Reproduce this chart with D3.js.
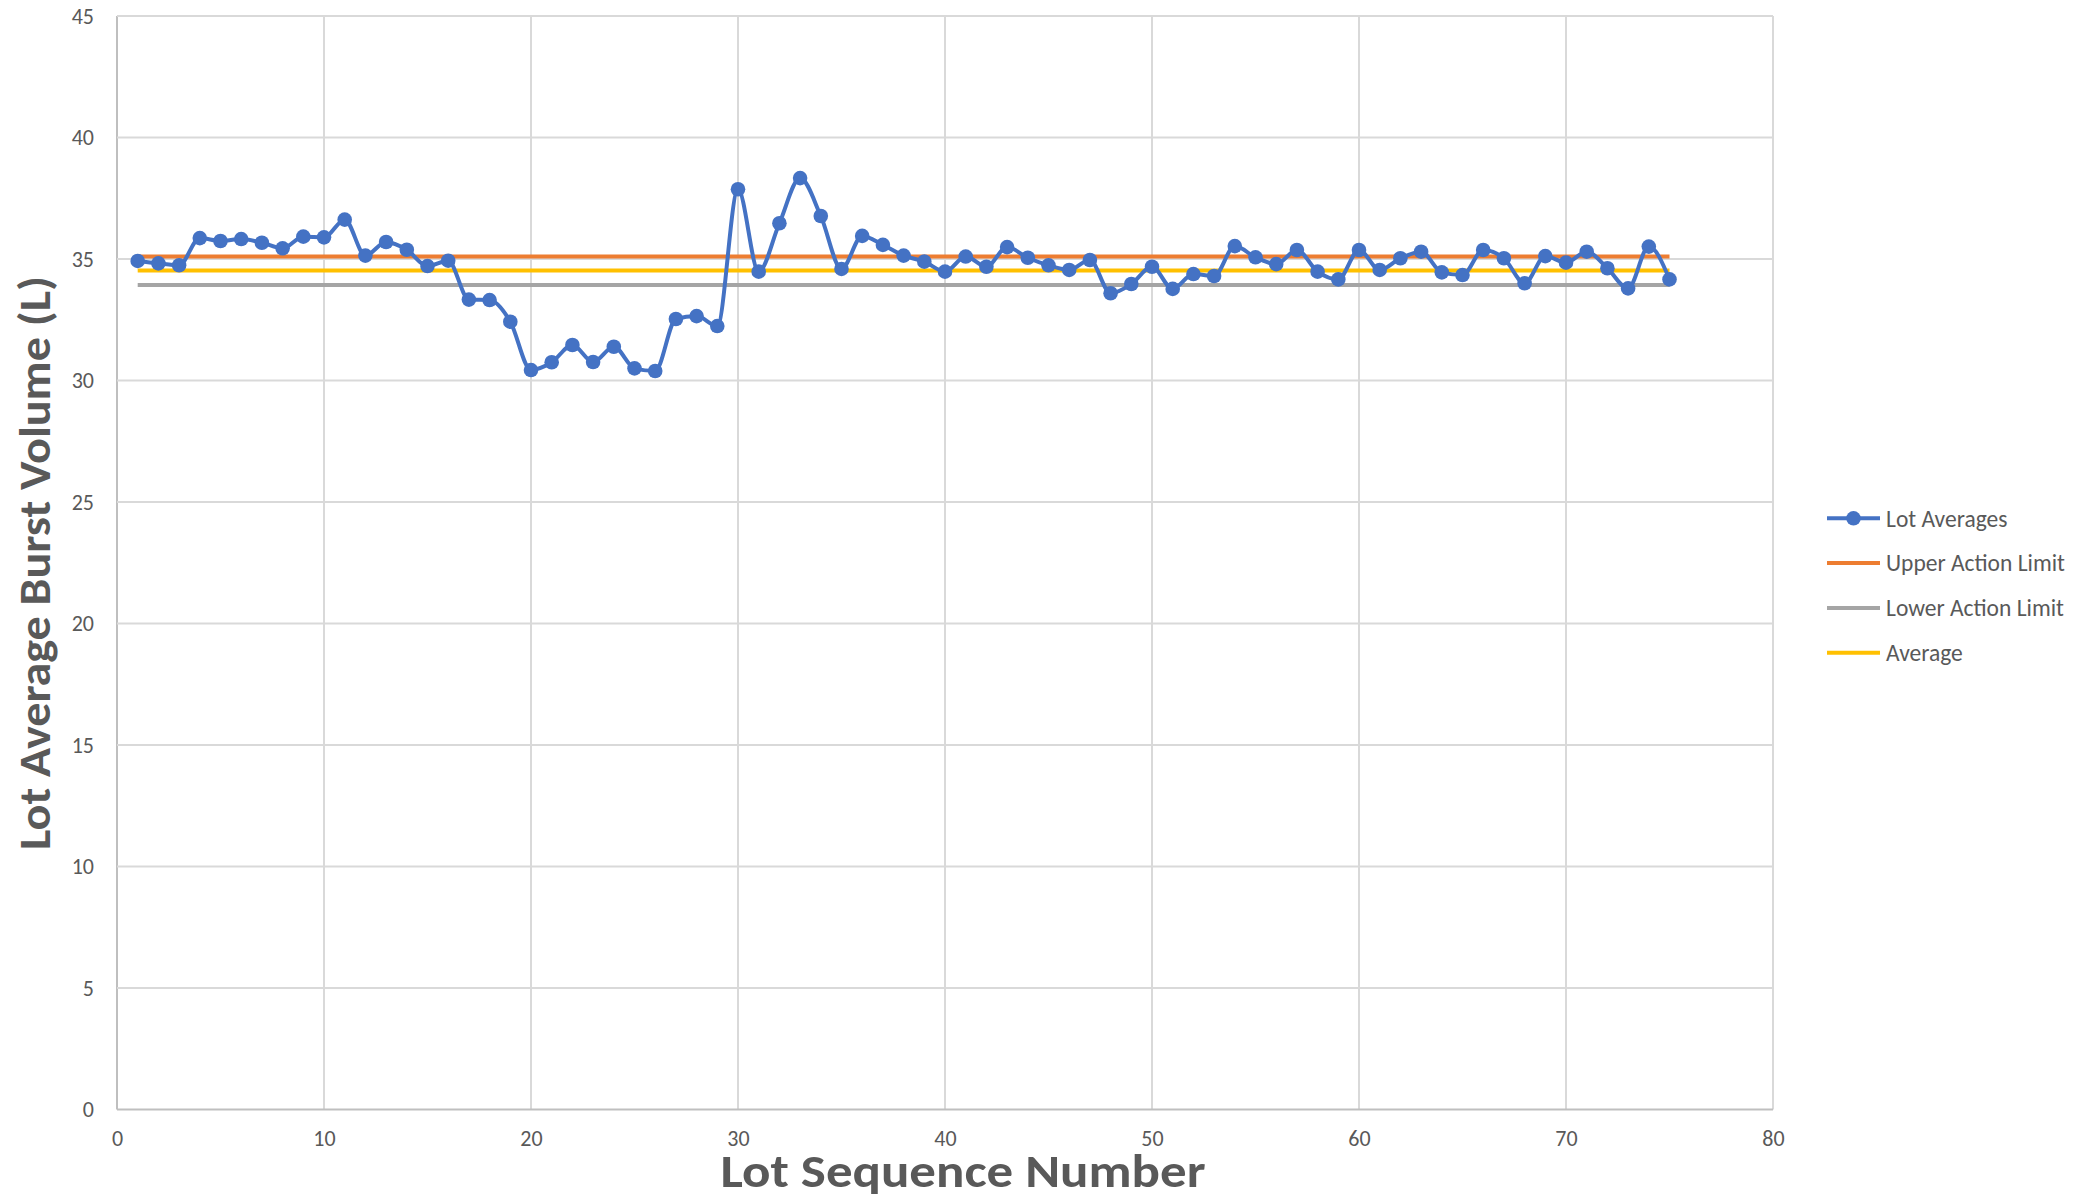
<!DOCTYPE html>
<html>
<head>
<meta charset="utf-8">
<script src="https://cdn.jsdelivr.net/npm/d3@7/dist/d3.min.js"></script>
<style>
  html, body { margin: 0; padding: 0; background: #ffffff; }
  svg { display: block; }
  text { font-family: Carlito, Calibri, Lato, "Open Sans", sans-serif; fill: #595959; }
</style>
</head>
<body>
<svg id="chart" width="2089" height="1199"></svg>
<script>
// Lot sequence numbers 1..75
const lots = [
  1, 2, 3, 4, 5, 6, 7, 8, 9, 10, 11, 12, 13, 14, 15, 16, 17, 18, 19, 20,
  21, 22, 23, 24, 25, 26, 27, 28, 29, 30, 31, 32, 33, 34, 35, 36, 37, 38, 39, 40,
  41, 42, 43, 44, 45, 46, 47, 48, 49, 50, 51, 52, 53, 54, 55, 56, 57, 58, 59, 60,
  61, 62, 63, 64, 65, 66, 67, 68, 69, 70, 71, 72, 73, 74, 75
];

// Average burst volume (L) of each lot
const lotAverages = [
  34.92, 34.82, 34.74, 35.86, 35.74, 35.82, 35.67, 35.44, 35.92, 35.89,
  36.62, 35.14, 35.70, 35.38, 34.71, 34.93, 33.33, 33.31, 32.42, 30.43,
  30.75, 31.46, 30.76, 31.39, 30.50, 30.39, 32.53, 32.65, 32.24, 37.87,
  34.48, 36.47, 38.33, 36.77, 34.59, 35.95, 35.58, 35.14, 34.89, 34.48,
  35.10, 34.68, 35.49, 35.05, 34.74, 34.55, 34.96, 33.59, 33.97, 34.68,
  33.77, 34.38, 34.30, 35.53, 35.07, 34.79, 35.37, 34.48, 34.16, 35.37,
  34.55, 35.03, 35.30, 34.45, 34.34, 35.37, 35.03, 34.00, 35.12, 34.85,
  35.30, 34.62, 33.79, 35.51, 34.16
];

// Control limits and overall average
const upperActionLimit = 35.10;
const lowerActionLimit = 33.93;
const overallAverage = 34.53;

// Axis ticks
const xTicks = [0, 10, 20, 30, 40, 50, 60, 70, 80];
const yTicks = [0, 5, 10, 15, 20, 25, 30, 35, 40, 45];

const legendLabels = ["Lot Averages", "Upper Action Limit", "Lower Action Limit", "Average"];
const seriesColors = ["#4472C4", "#ED7D31", "#A5A5A5", "#FFC000"];

const svg = d3.select("#chart");

const plot = { left: 117, right: 1773, top: 16, bottom: 1109.5 };

const x = d3.scaleLinear().domain([0, 80]).range([plot.left, plot.right]);
const y = d3.scaleLinear().domain([0, 45]).range([plot.bottom, plot.top]);

// Gridlines
const grid = svg.append("g");
grid.selectAll("line.vg").data(xTicks).enter().append("line")
  .attr("x1", d => x(d)).attr("x2", d => x(d))
  .attr("y1", plot.top).attr("y2", plot.bottom)
  .attr("stroke", d => d === 0 ? "#BFBFBF" : "#D9D9D9")
  .attr("stroke-width", 2);
grid.selectAll("line.hg").data(yTicks).enter().append("line")
  .attr("x1", plot.left).attr("x2", plot.right)
  .attr("y1", d => y(d)).attr("y2", d => y(d))
  .attr("stroke", d => d === 0 ? "#BFBFBF" : "#D9D9D9")
  .attr("stroke-width", 2);

// Axes (labels only; lines drawn by the grid)
const yAxis = d3.axisLeft(y).tickValues(yTicks).tickSize(0).tickPadding(23);
const gy = svg.append("g").attr("transform", `translate(${plot.left},0)`).call(yAxis);
gy.select(".domain").remove();
gy.selectAll("text").attr("font-size", 22).attr("fill", "#595959")
  .style("font-family", "Carlito, Calibri, Lato, sans-serif");

const xAxis = d3.axisBottom(x).tickValues(xTicks).tickSize(0).tickPadding(21);
const gx = svg.append("g").attr("transform", `translate(0,${plot.bottom})`).call(xAxis);
gx.select(".domain").remove();
gx.selectAll("text").attr("font-size", 22).attr("fill", "#595959")
  .style("font-family", "Carlito, Calibri, Lato, sans-serif");

// Horizontal reference series spanning the first to last lot
const first = lots[0], last = lots[lots.length - 1];
const refs = [
  { v: upperActionLimit, c: seriesColors[1] },
  { v: lowerActionLimit, c: seriesColors[2] },
  { v: overallAverage, c: seriesColors[3] }
];
svg.append("g").selectAll("line").data(refs).enter().append("line")
  .attr("x1", x(first)).attr("x2", x(last))
  .attr("y1", d => y(d.v)).attr("y2", d => y(d.v))
  .attr("stroke", d => d.c).attr("stroke-width", 4);

// Lot averages line with markers
const pts = lots.map((l, i) => ({ l, v: lotAverages[i] }));
const line = d3.line().x(d => x(d.l)).y(d => y(d.v)).curve(d3.curveMonotoneX);
svg.append("path").datum(pts)
  .attr("d", line)
  .attr("fill", "none")
  .attr("stroke", seriesColors[0])
  .attr("stroke-width", 4)
  .attr("stroke-linejoin", "round");
svg.append("g").selectAll("circle").data(pts).enter().append("circle")
  .attr("cx", d => x(d.l)).attr("cy", d => y(d.v)).attr("r", 7.3)
  .attr("fill", seriesColors[0]);

// Axis titles
svg.append("text")
  .attr("x", 963).attr("y", 1187)
  .attr("text-anchor", "middle")
  .attr("font-size", 46).attr("font-weight", "bold")
  .attr("textLength", 485).attr("lengthAdjust", "spacingAndGlyphs")
  .text("Lot Sequence Number");

svg.append("text")
  .attr("transform", "translate(50,563) rotate(-90)")
  .attr("text-anchor", "middle")
  .attr("font-size", 44).attr("font-weight", "bold")
  .attr("textLength", 574).attr("lengthAdjust", "spacingAndGlyphs")
  .text("Lot Average Burst Volume (L)");

// Legend
const legend = svg.append("g");
const legendY0 = 518.3, legendStep = 44.8;
legendLabels.forEach((lab, i) => {
  const ly = legendY0 + i * legendStep;
  legend.append("line")
    .attr("x1", 1827).attr("x2", 1880).attr("y1", ly).attr("y2", ly)
    .attr("stroke", seriesColors[i]).attr("stroke-width", 4);
  if (i === 0) {
    legend.append("circle").attr("cx", 1853.5).attr("cy", ly).attr("r", 7.3)
      .attr("fill", seriesColors[0]);
  }
  legend.append("text")
    .attr("x", 1886).attr("y", ly).attr("dy", "0.35em")
    .attr("font-size", 23.5)
    .text(lab);
});
</script>
</body>
</html>
